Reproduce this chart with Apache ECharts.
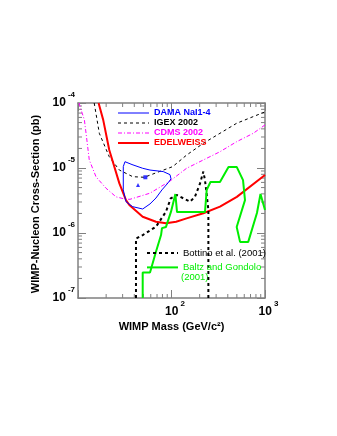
<!DOCTYPE html>
<html>
<head>
<meta charset="utf-8">
<script src="https://cdn.jsdelivr.net/npm/echarts@6/dist/echarts.min.js"></script>
<style>
  html, body { margin: 0; padding: 0; background: #fff; }
  #main { width: 337px; height: 436px; }
</style>
</head>
<body>
<div id="main"></div>
<script>
// [mass GeV, cross-section pb]
var damaContour = [
  [31.8, 1.25e-5], [37.8, 1.13e-5], [49.2, 9.9e-6], [58.9, 9.3e-6], [81.7, 8.8e-6],
  [96.4, 7.9e-6], [98.8, 6.8e-6], [91.8, 5.9e-6], [79, 4.6e-6], [68.2, 3.45e-6],
  [58.9, 2.8e-6], [49.2, 2.34e-6], [38.5, 2.54e-6], [32.6, 3.03e-6], [30.5, 4.6e-6],
  [30.5, 1.05e-5], [31.8, 1.25e-5]
];
var damaPoints = [[52.5, 7.2e-6], [43.8, 5.5e-6]];
var igex = [
  [14.9, 1e-4], [16.9, 3.42e-5], [21.6, 1.49e-5], [27.7, 9.3e-6], [38.5, 7.35e-6],
  [51.2, 7.2e-6], [74.1, 8.8e-6], [103, 1.05e-5], [145, 1.58e-5], [219, 2.4e-5],
  [330, 3.42e-5], [498, 4.88e-5], [1000, 7.3e-5]
];
var cdms = [
  [10.25, 1e-4], [10.8, 7.8e-5], [11.7, 5.5e-5], [12.2, 3.4e-5], [13.2, 1.33e-5],
  [15.6, 7.3e-6], [19.9, 4.9e-6], [25.5, 3.6e-6], [32.6, 3.3e-6], [36, 3.3e-6],
  [58.9, 4.1e-6], [96.4, 6.3e-6], [145, 9.9e-6], [219, 1.33e-5], [330, 1.78e-5],
  [498, 2.54e-5], [750, 3.42e-5], [1000, 4.6e-5]
];
var edelweiss = [
  [16.6, 1e-4], [18.6, 5.5e-5], [21.6, 1.89e-5], [27.7, 5.8e-6], [32.6, 3.2e-6],
  [35.4, 2.7e-6], [49.2, 1.78e-6], [68.2, 1.49e-6], [87.3, 1.41e-6], [112, 1.49e-6],
  [145, 1.68e-6], [219, 2.01e-6], [330, 2.54e-6], [500, 3.6e-6], [1000, 7.8e-6]
];
var bottino = [
  [41.7, 1e-7], [41.7, 8.2e-7], [49.2, 9.3e-7], [68.2, 1.25e-6], [87.3, 2.13e-6],
  [98, 3.4e-6], [113.7, 3.85e-6], [133.7, 3.42e-6], [157.7, 3.03e-6], [178, 3.6e-6],
  [202, 5.8e-6], [219, 8.8e-6], [228, 6.5e-6], [237, 4.1e-6], [248, 2.26e-6], [248, 1e-7]
];
var baltz = [
  [49.2, 1e-7], [49.2, 2.47e-7], [58.9, 2.47e-7], [68.2, 5.15e-7], [77.3, 9.3e-7],
  [79.1, 1.19e-6], [87.3, 1.24e-6], [98.8, 2.13e-6], [110, 3.98e-6], [114.6, 2.1e-6],
  [228, 2.1e-6], [238, 4.6e-6], [261, 6.1e-6], [330, 6.1e-6], [407, 1.04e-5],
  [498, 1.04e-5], [582, 6.5e-6], [611, 3.2e-6], [498, 1.24e-6], [541, 7.3e-7],
  [662, 7.3e-7], [820, 2.03e-6], [895, 3.98e-6], [1000, 2.26e-6]
];
var xMinorTicks = [20, 30, 40, 50, 60, 70, 80, 90, 200, 300, 400, 500, 600, 700, 800, 900];
var yMinorTicks = [
  2e-7, 3e-7, 4e-7, 5e-7, 6e-7, 7e-7, 8e-7, 9e-7,
  2e-6, 3e-6, 4e-6, 5e-6, 6e-6, 7e-6, 8e-6, 9e-6,
  2e-5, 3e-5, 4e-5, 5e-5, 6e-5, 7e-5, 8e-5, 9e-5
];

var FONT = '"Liberation Sans", Arial, Helvetica, sans-serif';
var frameColor = '#808080';

var powRich = {
  e: { width: 7 },
  b: { fontFamily: FONT, fontSize: 12, fontWeight: 'bold', color: '#000', padding: [6, 0, 6, 0], verticalAlign: 'bottom' },
  s: { fontFamily: FONT, fontSize: 8, fontWeight: 'bold', color: '#000', verticalAlign: 'top', padding: [0, 0, 0, 2] }
};

var styles = {
  dama: { color: '#0000ff', width: 1 },
  igex: { color: '#000', width: 1, type: [3, 3] },
  cdms: { color: '#ff00ff', width: 1, type: [4, 2, 1, 2] },
  edelweiss: { color: '#ff0000', width: 2 },
  bottino: { color: '#000', width: 2, type: [3, 3] },
  baltz: { color: '#00ee00', width: 2 }
};

function expOf(v) {
  return Math.round(Math.log(v) / Math.LN10);
}

function frameAxis(extra) {
  var a = {
    type: 'log',
    logBase: 10,
    axisLine: { show: true, lineStyle: { color: frameColor, width: 1.5 } },
    axisTick: { show: true, inside: true, length: 8, lineStyle: { color: frameColor, width: 1 } },
    splitLine: { show: false },
    axisLabel: { show: false }
  };
  for (var k in extra) a[k] = extra[k];
  return a;
}

var chart = echarts.init(document.getElementById('main'));

chart.setOption({
  animation: false,
  backgroundColor: '#fff',
  grid: { left: 78, right: 72, top: 103, bottom: 138 },
  xAxis: [
    frameAxis({
      min: 10, max: 1000, position: 'bottom',
      axisLabel: {
        show: true, margin: 2, showMinLabel: true, showMaxLabel: true,
        formatter: function (v) {
          var e = expOf(v);
          return e < 2 ? '' : '{e|}{b|10}{s|' + e + '}';
        },
        rich: powRich
      },
      name: 'WIMP Mass (GeV/c²)',
      nameLocation: 'middle',
      nameGap: 23,
      nameTextStyle: { fontFamily: FONT, fontSize: 11, fontWeight: 'bold', color: '#000' }
    }),
    frameAxis({ min: 10, max: 1000, position: 'top' })
  ],
  yAxis: [
    frameAxis({
      min: 1e-7, max: 1e-4, position: 'left',
      axisLabel: {
        show: true, margin: 3, showMinLabel: true, showMaxLabel: true,
        formatter: function (v) {
          return '{b|10}{s|' + expOf(v) + '}';
        },
        rich: powRich
      },
      name: 'WIMP-Nucleon Cross-Section (pb)',
      nameLocation: 'middle',
      nameGap: 26,
      nameTextStyle: { fontFamily: FONT, fontSize: 11, fontWeight: 'bold', color: '#000', padding: [0, 7, 0, 0] }
    }),
    frameAxis({ min: 1e-7, max: 1e-4, position: 'right' })
  ],
  legend: [
    {
      orient: 'vertical',
      left: 112, top: 103.5,
      itemWidth: 31, itemHeight: 9, itemGap: 1,
      selectedMode: false,
      itemStyle: { opacity: 0 },
      textStyle: { fontFamily: FONT, fontSize: 9, fontWeight: 'bold', lineHeight: 9 },
      data: [
        { name: 'DAMA NaI1-4', lineStyle: styles.dama, textStyle: { color: '#0000ff' } },
        { name: 'IGEX 2002', lineStyle: styles.igex, textStyle: { color: '#000' } },
        { name: 'CDMS 2002', lineStyle: styles.cdms, textStyle: { color: '#ff00ff' } },
        { name: 'EDELWEISS', lineStyle: styles.edelweiss, textStyle: { color: '#ff0000' } }
      ]
    },
    {
      orient: 'vertical',
      left: 141, top: 243,
      itemWidth: 31, itemHeight: 10, itemGap: 4.4,
      selectedMode: false,
      itemStyle: { opacity: 0 },
      textStyle: { fontFamily: FONT, fontSize: 9.5, lineHeight: 10 },
      data: [
        { name: 'Bottino et al. (2001)', lineStyle: styles.bottino, textStyle: { color: '#000' } },
        { name: 'Baltz and Gondolo', lineStyle: styles.baltz, textStyle: { color: '#00ee00' } }
      ]
    }
  ],
  graphic: [
    {
      type: 'text', left: 181, top: 272,
      style: { text: '(2001)', fill: '#00ee00', font: '9.5px ' + FONT }
    }
  ],
  series: [
    {
      name: 'DAMA NaI1-4', type: 'line', data: damaContour, symbol: 'none', z: 4,
      lineStyle: styles.dama, itemStyle: { color: '#0000ff' }
    },
    {
      name: 'IGEX 2002', type: 'line', data: igex, symbol: 'none',
      lineStyle: styles.igex, itemStyle: { color: '#000' }
    },
    {
      name: 'CDMS 2002', type: 'line', data: cdms, symbol: 'none',
      lineStyle: styles.cdms, itemStyle: { color: '#ff00ff' }
    },
    {
      name: 'EDELWEISS', type: 'line', data: edelweiss, symbol: 'none', z: 3,
      lineStyle: styles.edelweiss, itemStyle: { color: '#ff0000' }
    },
    {
      name: 'Bottino et al. (2001)', type: 'line', data: bottino, symbol: 'none',
      lineStyle: styles.bottino, itemStyle: { color: '#000' }
    },
    {
      name: 'Baltz and Gondolo', type: 'line', data: baltz, symbol: 'none',
      lineStyle: styles.baltz, itemStyle: { color: '#00ee00' }
    },
    {
      type: 'scatter', z: 5, symbolSize: 4,
      itemStyle: { color: '#0000ff' },
      data: [
        { value: damaPoints[0], symbol: 'rect' },
        { value: damaPoints[1], symbol: 'triangle' }
      ]
    },
    {
      // minor ticks on bottom/top frame
      type: 'custom', silent: true,
      data: xMinorTicks.map(function (v) { return [v, 1e-7]; }),
      renderItem: function (params, api) {
        var v = api.value(0);
        var b = api.coord([v, 1e-7]);
        var t = api.coord([v, 1e-4]);
        var st = { stroke: frameColor, lineWidth: 1 };
        return {
          type: 'group',
          children: [
            { type: 'line', shape: { x1: b[0], y1: b[1], x2: b[0], y2: b[1] - 4 }, style: st },
            { type: 'line', shape: { x1: t[0], y1: t[1], x2: t[0], y2: t[1] + 4 }, style: st }
          ]
        };
      }
    },
    {
      // minor ticks on left/right frame
      type: 'custom', silent: true,
      data: yMinorTicks.map(function (v) { return [10, v]; }),
      renderItem: function (params, api) {
        var v = api.value(1);
        var l = api.coord([10, v]);
        var r = api.coord([1000, v]);
        var st = { stroke: frameColor, lineWidth: 1 };
        return {
          type: 'group',
          children: [
            { type: 'line', shape: { x1: l[0], y1: l[1], x2: l[0] + 4, y2: l[1] }, style: st },
            { type: 'line', shape: { x1: r[0], y1: r[1], x2: r[0] - 4, y2: r[1] }, style: st }
          ]
        };
      }
    }
  ]
});
</script>
</body>
</html>
